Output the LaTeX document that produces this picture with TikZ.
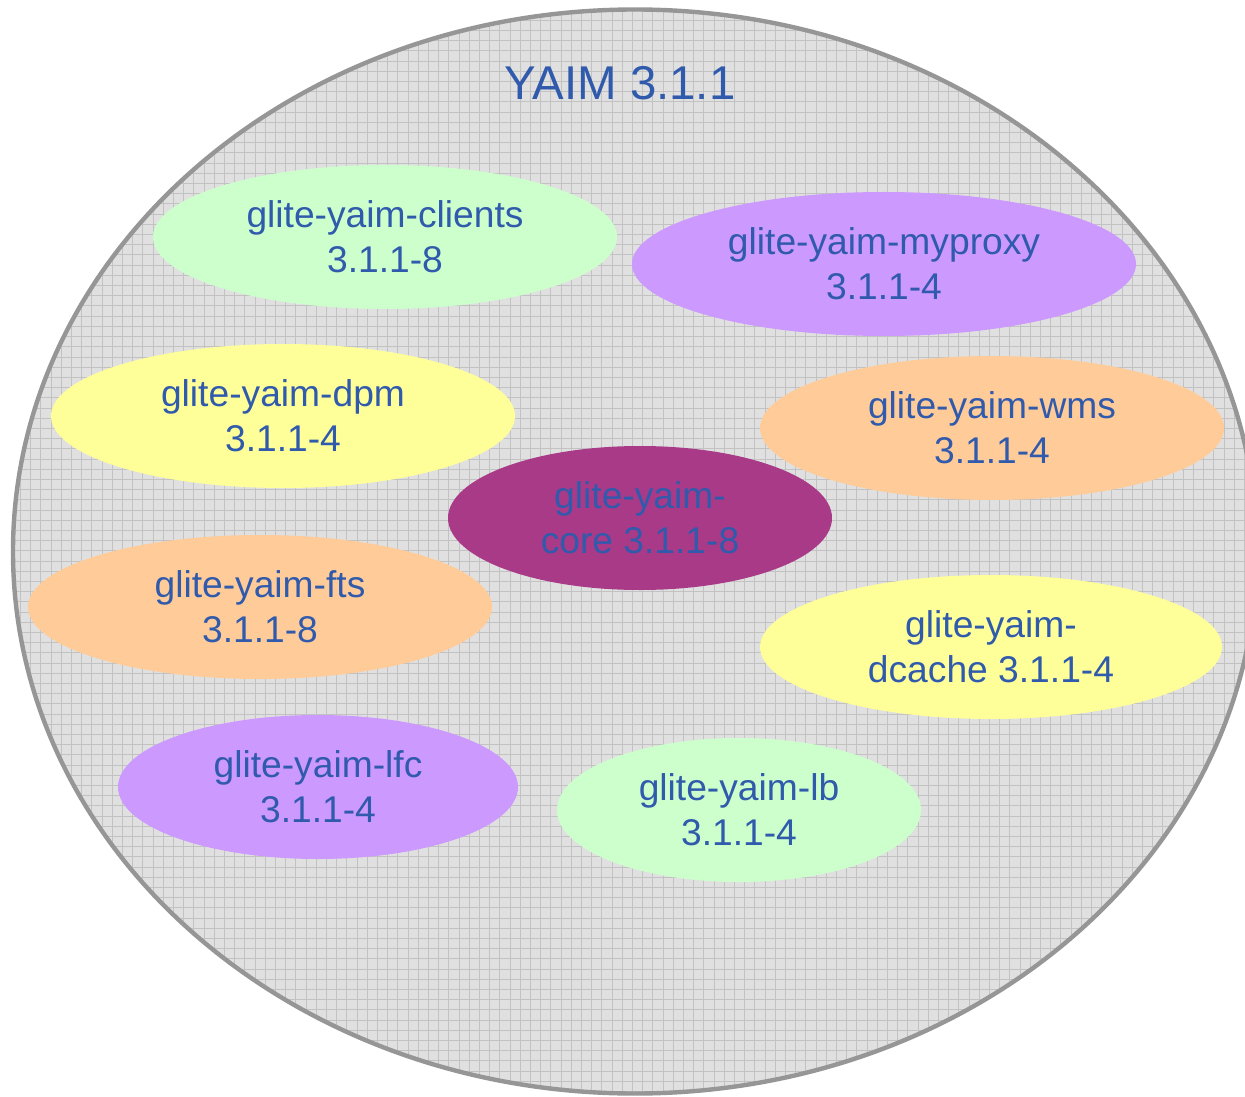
\documentclass[tikz,border=0pt]{standalone}
\usepackage{fontspec}
\setmainfont{Liberation Sans}
\usetikzlibrary{shapes.geometric}
\definecolor{txtblue}{RGB}{48,90,172}
\definecolor{gridfill}{RGB}{224,224,224}
\definecolor{gridline}{RGB}{194,194,194}
\definecolor{rim}{RGB}{150,150,150}
\definecolor{cgreen}{RGB}{204,255,204}
\definecolor{cpurple}{RGB}{204,153,255}
\definecolor{cyellow}{RGB}{255,255,153}
\definecolor{corange}{RGB}{255,204,153}
\definecolor{cmagenta}{RGB}{169,58,135}
\tikzset{
  pkg/.style={ellipse, draw=none, inner sep=0pt, outer sep=0pt, align=center,
    text=txtblue, font=\fontsize{18.6}{22.5}\selectfont, minimum height=72pt},
  gridln/.style={gridline, line width=0.5pt},
}
\begin{document}
\begin{tikzpicture}[x=0.5pt,y=-0.5pt]
\useasboundingbox (0,0) rectangle (1245,1096);
\begin{scope}
  \clip (635,551.5) ellipse [x radius=622, y radius=542];
  \fill[gridfill] (0,0) rectangle (1300,1100);
  \foreach \i in {0,...,127} {
    \draw[gridln] ({\i*10.2},0) -- ({\i*10.2},1100);
  }
  \foreach \j in {0,...,108} {
    \draw[gridln] (0,{\j*10.2}) -- (1300,{\j*10.2});
  }
\end{scope}
\node[ellipse, draw=rim, line width=2.2pt, minimum width=622pt, minimum height=542pt, inner sep=0pt] (yaim) at (635,551.5) {};
\node[text=txtblue, font=\fontsize{23.7}{28}\selectfont] (title) at (620,83) {YAIM 3.1.1};

\node[pkg, fill=cgreen,   minimum width=232pt] (clients) at (385,237) {glite-yaim-clients\\3.1.1-8};
\node[pkg, fill=cpurple,  minimum width=252pt] (myproxy) at (884,264) {glite-yaim-myproxy\\3.1.1-4};
\node[pkg, fill=cyellow,  minimum width=232pt] (dpm)     at (283,416) {glite-yaim-dpm\\3.1.1-4};
\node[pkg, fill=corange,  minimum width=232pt] (wms)     at (992,428) {glite-yaim-wms\\3.1.1-4};
\node[pkg, fill=cmagenta, minimum width=192pt] (core)    at (640,518) {glite-yaim-\\core 3.1.1-8};
\node[pkg, fill=corange,  minimum width=232pt] (fts)     at (260,607) {glite-yaim-fts\\3.1.1-8};
\node[pkg, fill=cyellow,  minimum width=231pt] (dcache)  at (991,647) {glite-yaim-\\dcache 3.1.1-4};
\node[pkg, fill=cpurple,  minimum width=200pt] (lfc)     at (318,787) {glite-yaim-lfc\\3.1.1-4};
\node[pkg, fill=cgreen,   minimum width=182pt] (lb)      at (739,810) {glite-yaim-lb\\3.1.1-4};
\end{tikzpicture}
\end{document}
